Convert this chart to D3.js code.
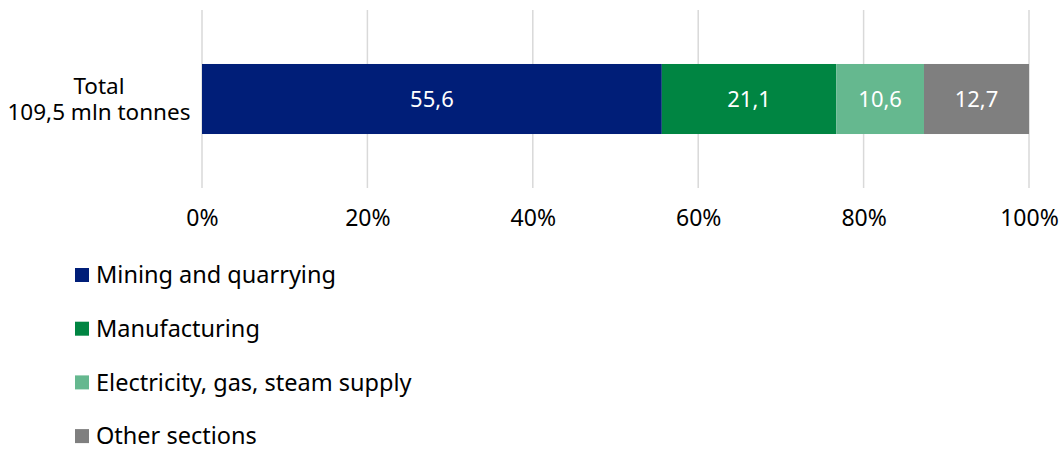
<!DOCTYPE html>
<html><head><meta charset="utf-8">
<script src="https://cdn.jsdelivr.net/npm/d3@7"></script>
<style>body{margin:0;background:#fff;} svg{display:block;font-family:"Noto Sans",sans-serif;}</style>
</head><body>
<script>
const categoryLines = ["Total", "109,5 mln tonnes"];
const seriesNames = ["Mining and quarrying", "Manufacturing", "Electricity, gas, steam supply", "Other sections"];
const seriesValues = [55.6, 21.1, 10.6, 12.7];
const seriesColors = ["#001E78", "#008542", "#65B88F", "#7F7F7F"];
const tickValues = [0, 20, 40, 60, 80, 100];

const W = 1063, H = 450;
const svg = d3.select("body").append("svg").attr("width", W).attr("height", H);

const x = d3.scaleLinear().domain([0, 100]).range([202, 1029]);
const y = d3.scaleBand().domain(["Total"]).range([10, 188]).paddingInner(0).paddingOuter(0.771);

// gridlines
svg.append("g").selectAll("line").data(tickValues).join("line")
  .attr("x1", d => x(d)).attr("x2", d => x(d))
  .attr("y1", 10).attr("y2", 188)
  .attr("stroke", "#D9D9D9").attr("stroke-width", 1.5);

// stacked bar
let cum = 0;
const segs = seriesValues.map((v, i) => { const s = {name: seriesNames[i], v, x0: cum, x1: cum + v, color: seriesColors[i]}; cum += v; return s; });
const bar = svg.append("g");
bar.selectAll("rect").data(segs).join("rect")
  .attr("x", d => x(d.x0)).attr("width", d => x(d.x1) - x(d.x0))
  .attr("y", y("Total")).attr("height", y.bandwidth())
  .attr("fill", d => d.color);
bar.selectAll("text").data(segs).join("text")
  .attr("x", d => (x(d.x0) + x(d.x1)) / 2)
  .attr("y", y("Total") + y.bandwidth() / 2)
  .attr("dy", "0.35em").attr("text-anchor", "middle")
  .attr("fill", "#fff").attr("font-size", 22)
  .text(d => d3.format(".1f")(d.v).replace(".", ","));

// x axis labels
const xAxis = d3.axisBottom(x).tickValues(tickValues).tickSize(0).tickFormat(d => d + "%");
const gx = svg.append("g").attr("transform", "translate(0,218)").call(xAxis);
gx.select(".domain").remove();
gx.selectAll("text").attr("font-size", 23).attr("fill", "#000").attr("font-family", "Noto Sans").attr("y", 0).attr("dy", "0.35em");

// category label
const cy = y("Total") + y.bandwidth() / 2;
svg.append("text").attr("x", 99).attr("y", cy).attr("text-anchor", "middle")
  .attr("font-size", 22.5).attr("fill", "#000")
  .selectAll("tspan").data(categoryLines).join("tspan")
  .attr("x", 99).attr("y", (d, i) => cy - 13 + i * 26).attr("dy", "0.35em").text(d => d);

// legend
const lg = svg.append("g");
const rows = lg.selectAll("g").data(segs).join("g")
  .attr("transform", (d, i) => `translate(75,${275 + i * 53.7})`);
rows.append("rect").attr("x", 0).attr("y", -7).attr("width", 14).attr("height", 14).attr("fill", d => d.color);
rows.append("text").attr("x", 21).attr("y", 0).attr("dy", "0.35em")
  .attr("font-size", 23.5).attr("fill", "#000").text(d => d.name);
</script>
</body></html>
